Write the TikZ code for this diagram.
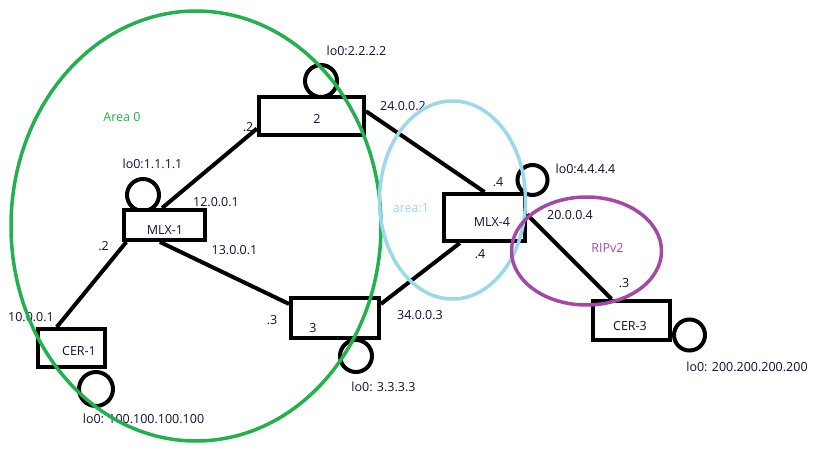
\documentclass[tikz,border=0pt]{standalone}
\usepackage{fontspec}
\setmainfont{Open Sans}
\definecolor{pgreen}{HTML}{22B14C}
\definecolor{pblue}{HTML}{99D9EA}
\definecolor{ppurple}{HTML}{A349A4}
\definecolor{ptext}{HTML}{10103A}
\begin{document}
\begin{tikzpicture}[x=1pt,y=-1pt,
  router/.style={draw=black,line width=4pt,fill=white,rectangle,inner sep=0pt},
  loopc/.style={draw=black,line width=4pt,circle,inner sep=0pt},
  link/.style={draw=black,line width=4pt},
  lbl/.style={text=ptext,font=\fontsize{12.5}{14}\selectfont,inner sep=0pt},
  area/.style={line width=3.5pt}]
\useasboundingbox[fill=white] (0,0) rectangle (816,460);
% loopback circles
\node[loopc,minimum size=34pt] (l1) at (96,389) {};
\node[loopc,minimum size=32pt] (l2) at (321,81) {};
\node[loopc,minimum size=32pt] (lm1) at (143,195) {};
\node[loopc,minimum size=32pt] (l3) at (356,356) {};
\node[loopc,minimum size=30pt] (l4) at (532.5,180) {};
\node[loopc,minimum size=31pt] (l5) at (689.5,335) {};
% routers
\node[router,minimum width=67pt,minimum height=38pt] (cer1) at (71.5,348) {};
\node[router,minimum width=105pt,minimum height=38pt] (r2) at (311.5,116) {};
\node[router,minimum width=81pt,minimum height=30pt] (mlx1) at (164.5,225) {};
\node[router,minimum width=88pt,minimum height=40pt] (r3) at (335,318) {};
\node[router,minimum width=81pt,minimum height=47pt] (mlx4) at (484.5,217.5) {};
\node[router,minimum width=77pt,minimum height=39pt] (cer3) at (631.5,320.5) {};
% links
\draw[link] (cer1.125) -- (mlx1.204);
\draw[link] (mlx1.98) -- (r2.193);
\draw[link] (r2.5) -- (mlx4.north);
\draw[link] (mlx1.255) -- (r3.163);
\draw[link] (r3.17) -- (mlx4.226);
\draw[link] (mlx4.4) -- (cer3.133);
% box texts
\node[lbl] (t1) at (79,351) {CER-1};
\node[lbl] (t2) at (317,119) {2};
\node[lbl] (t3) at (165,230) {MLX-1};
\node[lbl] (t4) at (313,328) {3};
\node[lbl] (t5) at (492,222) {MLX-4};
\node[lbl] (t6) at (630,326) {CER-3};
% labels
\node[lbl] (a1) at (152.5,164) {lo0:1.1.1.1};
\node[lbl] (a2) at (216,202) {12.0.0.1};
\node[lbl] (a3) at (234.5,250) {13.0.0.1};
\node[lbl] (a4) at (103.5,246) {.2};
\node[lbl] (a5) at (31,317) {10.0.0.1};
\node[lbl] (a6) at (143.5,419) {lo0: 100.100.100.100};
\node[lbl] (a7) at (356.5,51) {lo0:2.2.2.2};
\node[lbl] (a8) at (248,127) {.2};
\node[lbl] (a9) at (403,106) {24.0.0.2};
\node[lbl] (a10) at (272,320) {.3};
\node[lbl] (a11) at (420,315) {34.0.0.3};
\node[lbl] (a12) at (383.5,387) {lo0: 3.3.3.3};
\node[lbl] (a13) at (498,182) {.4};
\node[lbl] (a14) at (585.5,169) {lo0:4.4.4.4};
\node[lbl] (a15) at (570,215) {20.0.0.4};
\node[lbl] (a16) at (480,254) {.4};
\node[lbl] (a17) at (624,283) {.3};
\node[lbl] (a18) at (747,367) {lo0: 200.200.200.200};
% areas
\draw[area,pgreen] (196,226) ellipse [x radius=185, y radius=215];
\draw[area,pblue] (452.5,200) ellipse [x radius=73, y radius=99];
\draw[area,ppurple] (586.5,251) ellipse [x radius=75, y radius=54];
\node[lbl,text=pgreen] (g) at (122,117) {Area 0};
\node[lbl,text=pblue] (b) at (411,208) {area:1};
\node[lbl,text=ppurple] (p) at (607.5,248) {RIPv2};
\end{tikzpicture}
\end{document}
